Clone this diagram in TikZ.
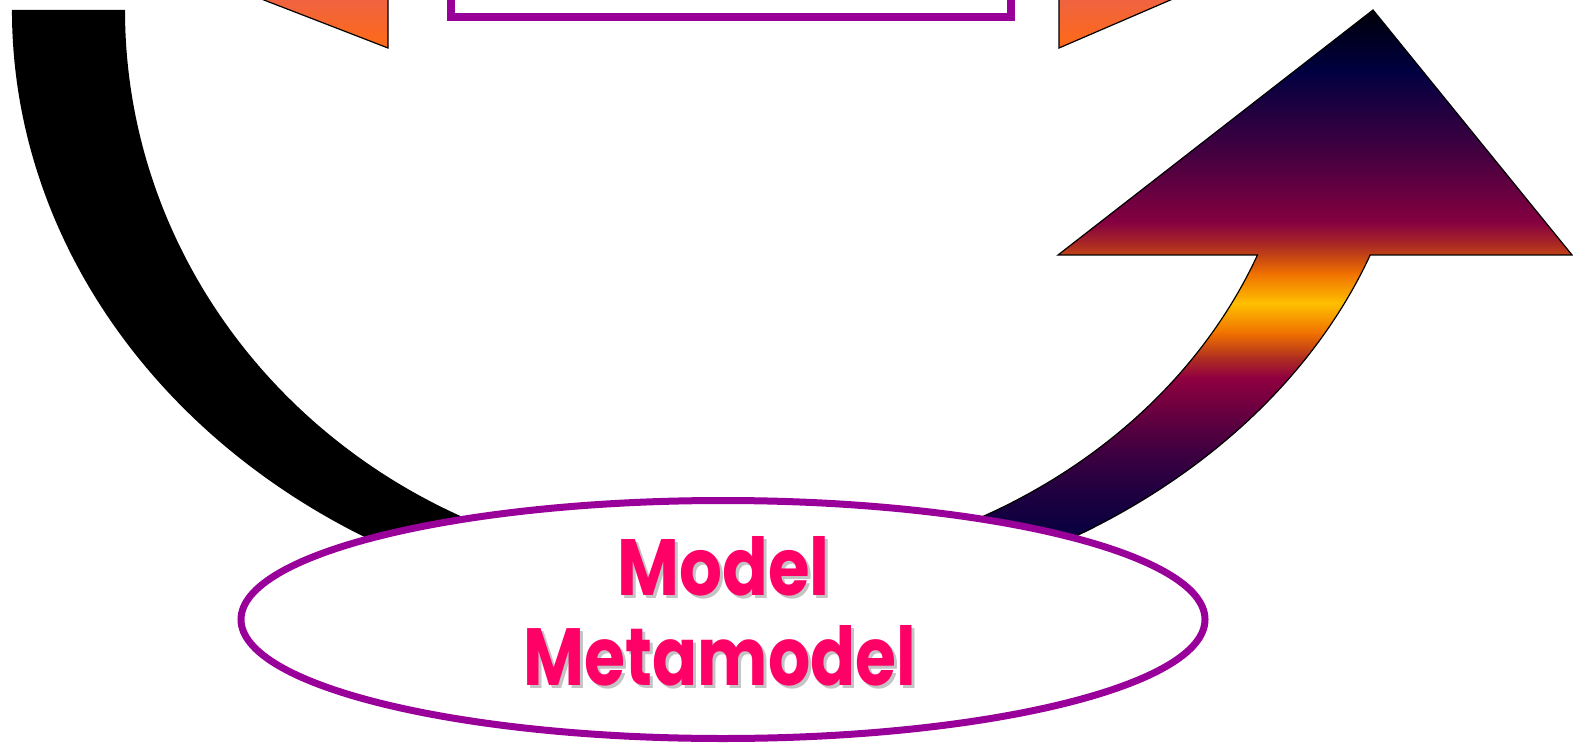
\documentclass[tikz,border=0pt]{standalone}
\usepackage{fontspec}
\usepackage{graphicx}
\usetikzlibrary{shapes.geometric}
\newfontfamily\lblfont{Poppins}
\definecolor{mpurple}{HTML}{990099}
\definecolor{mpink}{HTML}{FF0066}
\definecolor{shadowgray}{HTML}{C4C4C4}
\definecolor{triTop}{RGB}{238,98,68}
\definecolor{triBot}{RGB}{255,106,22}
\definecolor{g0}{HTML}{000000}
\definecolor{g1}{HTML}{000040}
\definecolor{g2}{HTML}{4A0040}
\definecolor{g3}{HTML}{850040}
\definecolor{g4}{HTML}{B03020}
\definecolor{g5}{HTML}{F07000}
\definecolor{g6}{HTML}{FFC000}
\definecolor{g7}{HTML}{F07000}
\definecolor{g8}{HTML}{B03020}
\definecolor{g9}{HTML}{900040}
\definecolor{g10}{HTML}{6A0040}
\definecolor{g11}{HTML}{400040}
\definecolor{g12}{HTML}{200040}
\definecolor{g13}{HTML}{080040}
\definecolor{g14}{HTML}{000040}
\newcommand\gband[4]{\shade[top color=#3,bottom color=#4] (900,#1) rectangle (1590,#2+0.8);}
\newcommand\uparrowpath{(1058,255) -- (1373,10) -- (1572,255) -- (1370.2,255)
  arc[start angle=19.9, end angle=62, x radius=700, y radius=547] -- (931.9,536.7)
  arc[start angle=68, end angle=21.67, x radius=587, y radius=505] -- cycle}
\begin{document}
\begin{tikzpicture}[x=1pt,y=-1pt,
  tri/.style={draw=black,line width=1.2pt,top color=triTop,bottom color=triBot},
  frame/.style={draw=mpurple,line width=7.5pt,fill=white},
  lbl/.style={inner sep=0pt,anchor=south,text=mpink},
  shad/.style={inner sep=0pt,anchor=south,text=shadowgray}]
\useasboundingbox (0,0) rectangle (1573,743);
\clip (0,0) rectangle (1573,743);
% top orange triangles
\draw[tri] (251,-5) -- (388,48) -- (388,-5) -- cycle;
\draw[tri] (1059,48) -- (1059,-5) -- (1182,-5) -- cycle;
% top rectangle
\draw[frame] (451,-20) rectangle (1011,17);
% black curved shaft (elliptic band)
\fill[black] (12,10) -- (125,10)
  arc[start angle=180, end angle=107, x radius=587, y radius=560]
  -- (461.1,576.7)
  arc[start angle=111, end angle=180, x radius=700, y radius=607] -- cycle;
% gradient arrow
\begin{scope}
\clip \uparrowpath;
\gband{0}{70}{g0}{g1}
\gband{70}{160}{g1}{g2}
\gband{160}{222}{g2}{g3}
\gband{222}{247}{g3}{g4}
\gband{247}{273}{g4}{g5}
\gband{273}{303}{g5}{g6}
\gband{303}{333}{g6}{g7}
\gband{333}{357}{g7}{g8}
\gband{357}{377}{g8}{g9}
\gband{377}{410}{g9}{g10}
\gband{410}{450}{g10}{g11}
\gband{450}{490}{g11}{g12}
\gband{490}{535}{g12}{g13}
\gband{535}{590}{g13}{g14}
\end{scope}
\draw[line width=1.2pt,line join=miter] \uparrowpath;
% ellipse
\node[ellipse,draw=mpurple,line width=7pt,fill=white,minimum width=964pt,minimum height=238pt,inner sep=0pt] (meta) at (723,619.5) {};
% labels
\node[shad] (models) at (726.5,599) {\resizebox{212pt}{59pt}{\lblfont\bfseries Model}};
\node[lbl] (model) at (723.5,596) {\resizebox{212pt}{59pt}{\lblfont\bfseries Model}};
\node[shad] (metas) at (723,689.5) {\resizebox{392pt}{60pt}{\lblfont\bfseries Metamodel}};
\node[lbl] (metat) at (720,686.5) {\resizebox{392pt}{60pt}{\lblfont\bfseries Metamodel}};
\end{tikzpicture}
\end{document}
